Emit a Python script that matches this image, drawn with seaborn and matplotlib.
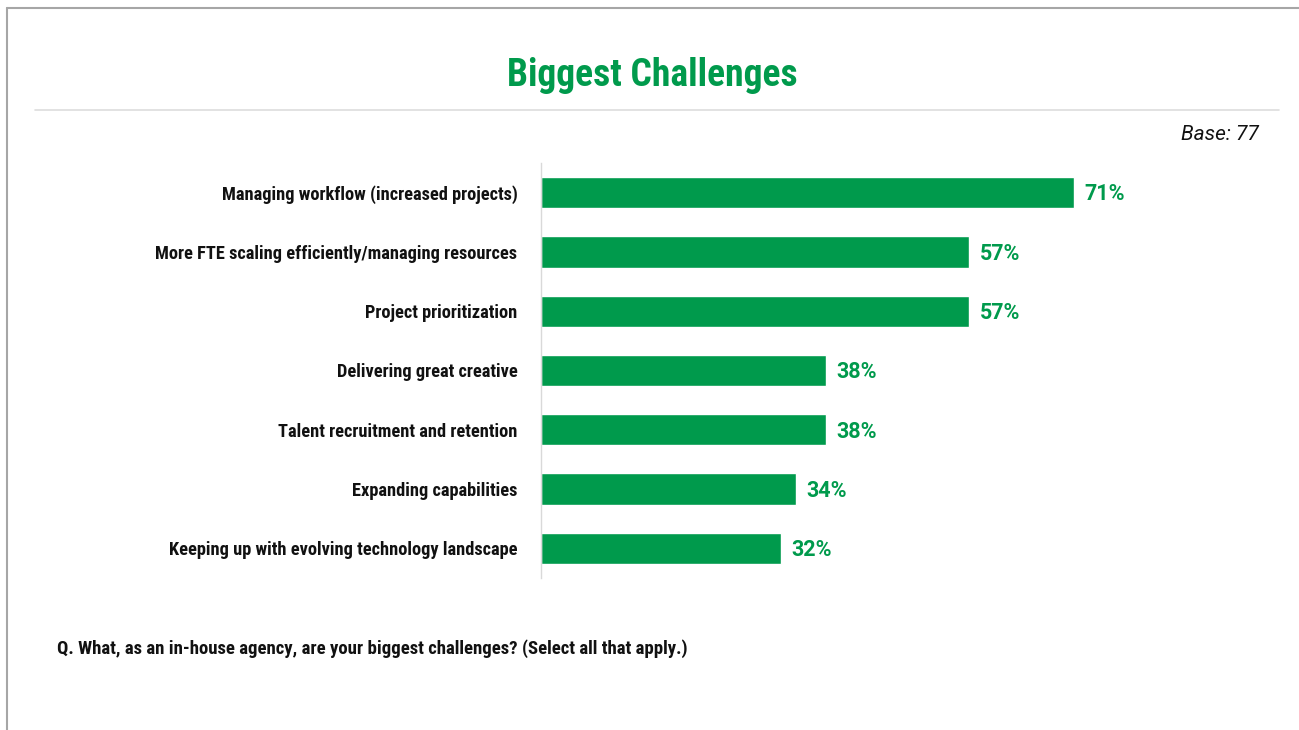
import matplotlib
matplotlib.use("Agg")
import matplotlib.pyplot as plt
from matplotlib.lines import Line2D
from matplotlib import font_manager as fm
import seaborn as sns
import pandas as pd

categories = [
    "Managing workflow (increased projects)",
    "More FTE scaling efficiently/managing resources",
    "Project prioritization",
    "Delivering great creative",
    "Talent recruitment and retention",
    "Expanding capabilities",
    "Keeping up with evolving technology landscape",
]
values = [71, 57, 57, 38, 38, 34, 32]

title = "Biggest Challenges"
base_note = "Base: 77"
question = "Q. What, as an in-house agency, are your biggest challenges? (Select all that apply.)"

GREEN = "#009A4C"

# pick a bold condensed face for the headline and labels
installed = {f.name for f in fm.fontManager.ttflist}
narrow_pref = ["Roboto Condensed", "Archivo Narrow", "Encode Sans Condensed",
               "Liberation Sans Narrow", "Sofia Sans Condensed"]
narrow = next((n for n in narrow_pref if n in installed), "DejaVu Sans")
NARROW = [narrow, "DejaVu Sans"]

sns.set_theme(style="white")
plt.rcParams["font.family"] = NARROW

W, H = 1299, 730
fig = plt.figure(figsize=(W / 100, H / 100), dpi=100)

# axes placed in pixel coordinates
left, right, top, bottom = 541, 1250, 163, 578
ax = fig.add_axes([left / W, 1 - bottom / H, (right - left) / W, (bottom - top) / H])

df = pd.DataFrame({"category": categories, "value": values})
sns.barplot(data=df, y="category", x="value", orient="h", color=GREEN,
            saturation=1, width=0.53, ax=ax)

xmax = (right - left) / 7.507
ax.set_xlim(0, xmax)
ax.set_ylim(6.5, -0.5)
ax.set_xlabel("")
ax.set_ylabel("")
ax.set_xticks([])
for side in ("top", "right", "bottom"):
    ax.spines[side].set_visible(False)
ax.spines["left"].set_color("#d9d9d9")
ax.spines["left"].set_linewidth(1.0)
ax.tick_params(axis="y", length=0, pad=17)
for lbl in ax.get_yticklabels():
    lbl.set_fontweight("bold")
    lbl.set_fontsize(13.2)
    lbl.set_color("#111111")
    lbl.set_family(NARROW)

for i, v in enumerate(values):
    ax.text(v + 1.4, i + 0.03, f"{v}%", va="center", ha="left", fontsize=15.5,
            fontweight="bold", color=GREEN, family=["Roboto", "DejaVu Sans"])

# title, rule and notes
fig.text(652 / W, 1 - 75 / H, title, ha="center", va="center", fontsize=27,
         fontweight="bold", color=GREEN, family=NARROW)
fig.add_artist(Line2D([35 / W, 1279 / W], [1 - 110 / H, 1 - 110 / H],
                      color="#dddddd", lw=1.2))
fig.text(1259 / W, 1 - 134 / H, base_note, ha="right", va="center",
         fontsize=15, style="italic", color="#111111", family=["Roboto", "DejaVu Sans"])
fig.text(57 / W, 1 - 649 / H, question, ha="left", va="center", fontsize=13.5,
         fontweight="bold", color="#111111", family=NARROW)

# frame lines along the top and left edges
fig.add_artist(Line2D([7 / W, 1], [1 - 8 / H, 1 - 8 / H], color="#a6a6a6", lw=1.5))
fig.add_artist(Line2D([7 / W, 7 / W], [0, 1 - 8 / H], color="#a6a6a6", lw=1.5))

fig.savefig("out.png", dpi=100, facecolor="white")
